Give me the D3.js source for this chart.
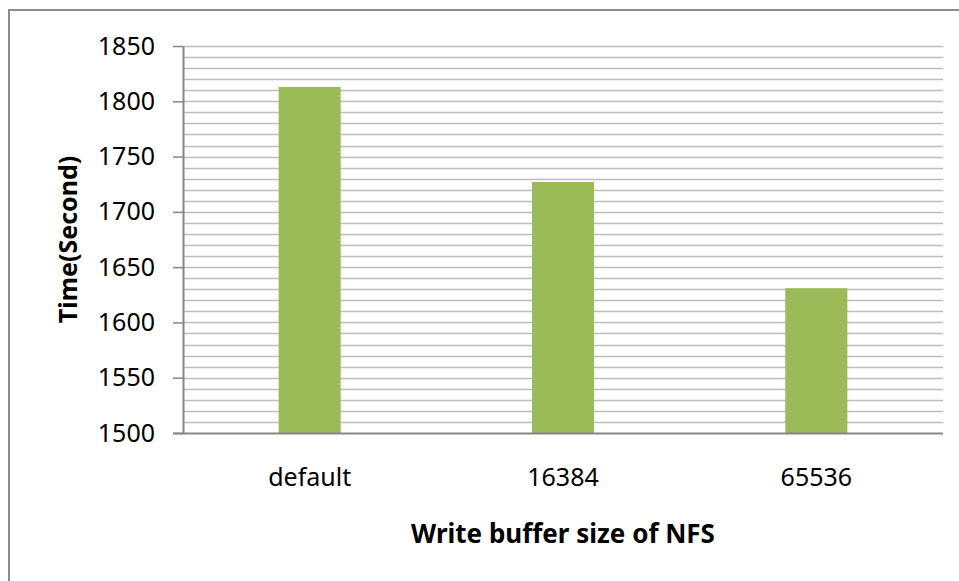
<!DOCTYPE html>
<html>
<head>
<meta charset="utf-8">
<script src="https://cdn.jsdelivr.net/npm/d3@7"></script>
<style>
  html, body { margin: 0; padding: 0; background: #fff; }
  svg { display: block; }
  text { font-family: "Noto Sans", "Open Sans", sans-serif; fill: #000; }
</style>
</head>
<body>
<svg id="chart" width="959" height="581"></svg>
<script>
// NFS write time for each write buffer size
const categories = ["default", "16384", "65536"];
const times = [1813, 1727, 1631];
const yTicks = [1500, 1550, 1600, 1650, 1700, 1750, 1800, 1850];
const yDomain = [1500, 1850];
const minorStep = 10;

const svg = d3.select("#chart");
const m = { left: 183, right: 943, top: 46, bottom: 433 };

// Outer frame (top and left edges)
svg.append("path")
  .attr("d", "M9,581V10H959")
  .attr("fill", "none")
  .attr("stroke", "#8c8c8c")
  .attr("stroke-width", 2);

const x = d3.scaleBand().domain(categories).range([m.left, m.right]).padding(0);
const y = d3.scaleLinear().domain(yDomain).range([m.bottom, m.top]);

// Horizontal gridlines every 10 seconds
const grid = d3.range(yDomain[0] + minorStep, yDomain[1] + 0.001, minorStep);
svg.append("g").selectAll("line").data(grid).join("line")
  .attr("x1", m.left).attr("x2", m.right)
  .attr("y1", d => Math.round(y(d)) + 0.5).attr("y2", d => Math.round(y(d)) + 0.5)
  .attr("stroke", "#bcbcbc").attr("stroke-width", 1.5);

// Bars
const barW = x.bandwidth() * 0.245;
svg.append("g").selectAll("rect").data(categories).join("rect")
  .attr("x", d => x(d) + (x.bandwidth() - barW) / 2)
  .attr("width", barW)
  .attr("y", (d, i) => y(times[i]))
  .attr("height", (d, i) => y(yDomain[0]) - y(times[i]))
  .attr("fill", "#9bbb59");

// Y axis
const yAxis = svg.append("g")
  .attr("transform", `translate(${m.left},0)`)
  .call(d3.axisLeft(y).tickValues(yTicks).tickFormat(d3.format("d"))
    .tickSize(10).tickPadding(18).tickSizeOuter(0));
yAxis.select(".domain").attr("stroke", "#868686").attr("stroke-width", 2);
yAxis.selectAll(".tick line").attr("stroke", "#868686").attr("stroke-width", 1.5);
yAxis.selectAll(".tick text").attr("font-size", 25).attr("font-family", "Noto Sans").attr("fill", "#000");

// X axis
const xAxis = svg.append("g")
  .attr("transform", `translate(0,${m.bottom})`)
  .call(d3.axisBottom(x).tickSize(0).tickPadding(35).tickSizeOuter(0));
xAxis.select(".domain").remove();
xAxis.append("line")
  .attr("x1", m.left - 10).attr("x2", m.right)
  .attr("y1", 0.5).attr("y2", 0.5)
  .attr("stroke", "#868686").attr("stroke-width", 2);
xAxis.selectAll(".tick text").attr("font-size", 25).attr("font-family", "Noto Sans").attr("fill", "#000");

// Axis titles
svg.append("text")
  .attr("transform", `translate(77,${(m.top + m.bottom) / 2}) rotate(-90)`)
  .attr("text-anchor", "middle")
  .attr("font-size", 25).attr("font-weight", "bold")
  .text("Time(Second)");

svg.append("text")
  .attr("x", (m.left + m.right) / 2).attr("y", 543)
  .attr("text-anchor", "middle")
  .attr("font-size", 26).attr("font-weight", "bold")
  .text("Write buffer size of NFS");
</script>
</body>
</html>
